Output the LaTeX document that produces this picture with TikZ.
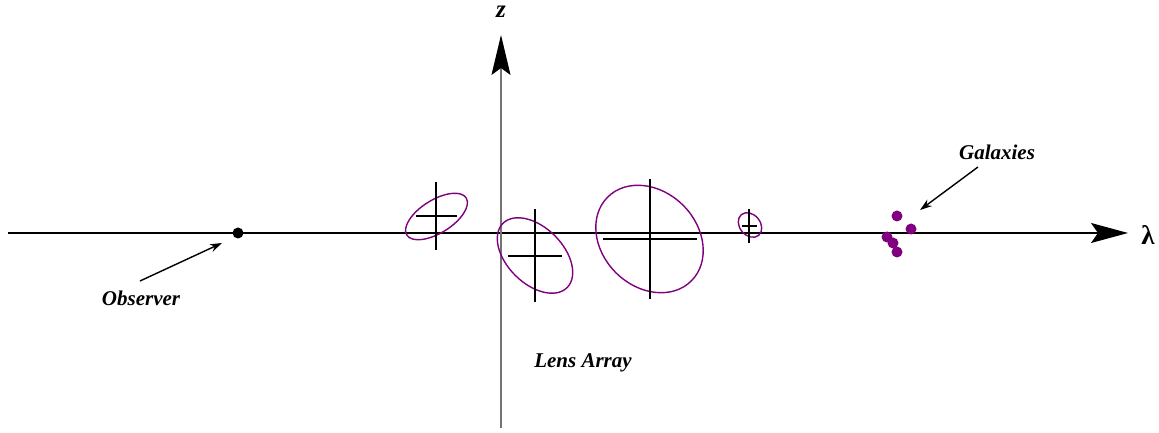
\documentclass[tikz,border=0pt]{standalone}
\usepackage{fontspec}
\setmainfont{Liberation Serif}
\usetikzlibrary{arrows.meta}
\definecolor{lenspurple}{HTML}{800080}
\tikzset{
  lens/.style={draw=lenspurple, line width=1.4pt},
  crossline/.style={draw=black, line width=1.6pt},
  galaxy/.style={circle, fill=lenspurple, inner sep=0pt, minimum size=11pt},
  obsdot/.style={circle, fill=black, inner sep=0pt, minimum size=11pt},
  lbl/.style={font=\fontsize{21}{23}\selectfont\bfseries\itshape, inner sep=0pt},
  pointer/.style={line width=1.4pt, -{Stealth[length=12pt,width=8pt]}},
  bigtip/.style={-{Stealth[length=37pt,width=20pt,inset=7pt]}}
}
\begin{document}
\begin{tikzpicture}[x=1pt,y=1pt]
\useasboundingbox (0,0) rectangle (1159,433);
% axes
\coordinate (hstart) at (8,200);
\coordinate (hend) at (1128,200);
\coordinate (vstart) at (501,5);
\coordinate (vend) at (501,398);
\draw[line width=1.1pt, bigtip] (hstart) -- (hend);
\draw[line width=1.1pt, black!55, -{Stealth[length=40pt,width=19pt,inset=7pt,color=black]}] (vstart) -- (vend);
\node[inner sep=0pt, font=\fontsize{25}{27}\selectfont\bfseries\itshape] (zlab) at (501,421) {z};
\node[inner sep=0pt, font=\fontsize{27}{29}\selectfont\bfseries] (lamlab) at (1148,198) {λ};
% observer
\node[obsdot] (obs) at (238,200) {};
\node[lbl] (obstext) at (141,135) {Observer};
\coordinate (obstail) at (140,152);
\coordinate (obshead) at (222,190);
\draw[pointer] (obstail) -- (obshead);
% lens 1
\draw[lens] (436.5,216.5) ellipse [x radius=35, y radius=16.5, rotate=32];
\draw[crossline] (436,251) -- (436,183);
\draw[crossline] (416,217) -- (457,217);
% lens 2
\draw[lens] (535,177.5) ellipse [x radius=45.4, y radius=28, rotate=-45];
\draw[crossline] (535,224) -- (535,131);
\draw[crossline] (508,177) -- (562,177);
% lens 3
\draw[lens] (649.5,194) ellipse [x radius=59.2, y radius=47.6, rotate=-45];
\draw[crossline] (650,254) -- (650,134);
\draw[crossline] (603,194) -- (697,194);
% lens 4
\draw[lens] (750,208) ellipse [x radius=13.5, y radius=10.3, rotate=-50];
\draw[crossline] (749,224) -- (749,190);
\draw[crossline] (742,207) -- (757,207);
% galaxies
\node[galaxy] (g1) at (897,217) {};
\node[galaxy] (g2) at (911,204) {};
\node[galaxy] (g3) at (887,196) {};
\node[galaxy] (g4) at (893,190) {};
\node[galaxy] (g5) at (897,181) {};
\node[lbl] (galtext) at (997,281) {Galaxies};
\coordinate (galtail) at (978,266);
\coordinate (galhead) at (920,223);
\draw[pointer] (galtail) -- (galhead);
% lens array label
\node[lbl] (lenstext) at (583,70) {Lens Array};
\end{tikzpicture}
\end{document}
